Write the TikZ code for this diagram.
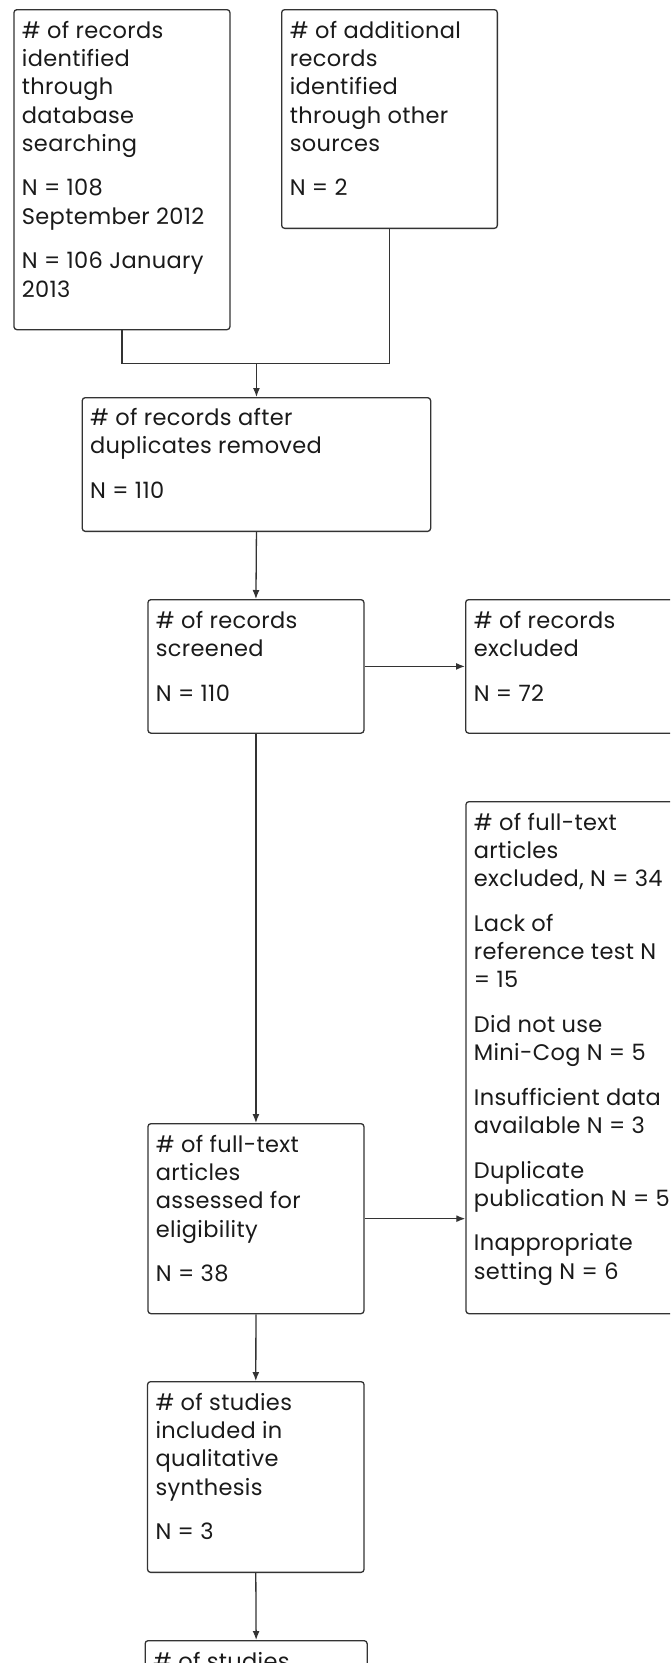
\documentclass[tikz,border=0pt]{standalone}
\usepackage{fontspec}
\setmainfont{Poppins}[LetterSpace=1.5]
\usetikzlibrary{arrows.meta,calc}
\definecolor{edge}{HTML}{333333}
\definecolor{ink}{HTML}{1A1A1A}
\tikzset{
  box/.style={draw=edge, line width=1.3pt, rounded corners=3pt, inner sep=0pt, anchor=north west, fill=white},
  txt/.style={anchor=north west, inner sep=0pt, align=left, text=ink, font=\fontsize{22.5}{28.3}\selectfont},
  conn/.style={draw=edge, line width=1.3pt},
  arr/.style={conn, -{Latex[length=9pt,width=7pt]}}
}
\newcommand{\fl}{\rule{0pt}{20pt}}
\newcommand{\pg}{\\[16.2pt]}
\begin{document}
\begin{tikzpicture}[x=1pt,y=-1pt]
\useasboundingbox (0,0) rectangle (670,1663);
\clip (0,0) rectangle (670,1663);
% boxes
\node[box, minimum width=216pt, minimum height=320pt] (b1) at (13.3,9) {};
\node[box, minimum width=215.7pt, minimum height=218.7pt] (b2) at (281,9) {};
\node[box, minimum width=348.4pt, minimum height=133.7pt] (b3) at (81.6,397) {};
\node[box, minimum width=216pt, minimum height=133.5pt] (b4) at (147.3,599) {};
\node[box, minimum width=216pt, minimum height=133.5pt] (b5) at (465,599) {};
\node[box, minimum width=216pt, minimum height=190pt] (b6) at (147.3,1123) {};
\node[box, minimum width=216pt, minimum height=512pt] (b7) at (465.3,801) {};
\node[box, minimum width=216.5pt, minimum height=190.7pt] (b8) at (146.9,1381) {};
\node[box, minimum width=222pt, minimum height=200pt] (b9) at (144.5,1640) {};
% texts
\node[txt] (t1) at ([shift={(8.4pt,-9pt)}]b1.north west) {\fl\# of records\\identified\\through\\database\\searching\pg N = 108\\September 2012\pg N = 106 January\\2013};
\node[txt] (t2) at ([shift={(8.6pt,-9pt)}]b2.north west) {\fl\# of additional\\records\\identified\\through other\\sources\pg N = 2};
\node[txt] (t3) at ([shift={(8.4pt,-8pt)}]b3.north west) {\fl\# of records after\\duplicates removed\pg N = 110};
\node[txt] (t4) at ([shift={(8.4pt,-9pt)}]b4.north west) {\fl\# of records\\screened\pg N = 110};
\node[txt] (t5) at ([shift={(8.6pt,-9pt)}]b5.north west) {\fl\# of records\\excluded\pg N = 72};
\node[txt] (t6) at ([shift={(8.4pt,-9pt)}]b6.north west) {\fl\# of full-text\\articles\\assessed for\\eligibility\pg N = 38};
\node[txt] (t7) at ([shift={(8.4pt,-9pt)}]b7.north west) {\fl\# of full-text\\articles\\excluded, N = 34\pg Lack of\\reference test N\\= 15\pg Did not use\\Mini-Cog N = 5\pg Insufficient data\\available N = 3\pg Duplicate\\publication N = 5\pg Inappropriate\\setting N = 6};
\node[txt] (t8) at ([shift={(8.4pt,-9pt)}]b8.north west) {\fl\# of studies\\included in\\qualitative\\synthesis\pg N = 3};
\node[txt] (t9) at ([shift={(8.4pt,-9pt)}]b9.north west) {\fl\# of studies};
% connectors
\coordinate (jy) at (0,363.3);
\draw[conn] (b1.south) -- (b1.south |- jy) -- (b2.south |- jy) -- (b2.south);
\draw[arr] (b3.north |- jy) -- (b3.north);
\draw[arr] (b3.south) -- (b4.north);
\draw[arr] (b4.east) -- (b5.west);
\draw[arr] (b4.south) -- (b6.north);
\draw[arr] (b6.east) -- (b6.east -| b7.west);
\draw[arr] (b6.south) -- (b8.north);
\draw[arr] (b8.south) -- (b9.north);
\end{tikzpicture}
\end{document}
